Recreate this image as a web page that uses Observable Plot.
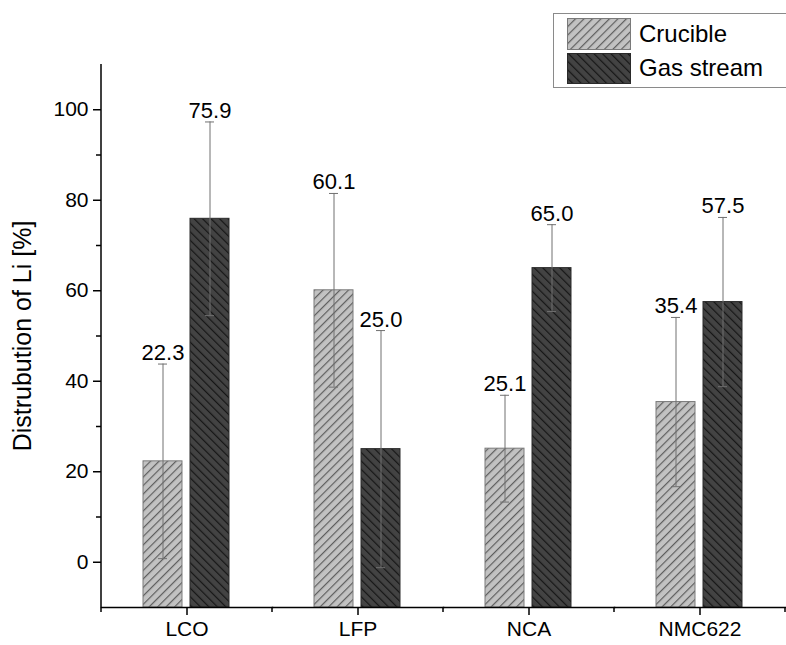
<!DOCTYPE html>
<html><head><meta charset="utf-8">
<script src="https://cdn.jsdelivr.net/npm/d3@7"></script>
<script src="https://cdn.jsdelivr.net/npm/@observablehq/plot@0.6"></script>
<style>
body{margin:0;background:#fff;font-family:"Liberation Sans",Arial,sans-serif}
#wrap{position:relative;width:786px;height:645px;overflow:hidden;background:#fff}
#legend{position:absolute;left:553px;top:13px;width:250px;height:73px;border:1px solid #8a8a8a;background:#fff}
.item{position:absolute;left:13px;height:32px;display:flex;align-items:center}
.item svg{display:block}
.item span{margin-left:8px;font-size:24px;color:#000;line-height:32px}
</style></head><body>
<svg width="0" height="0" style="position:absolute"><defs>
<pattern id="hatchC" patternUnits="userSpaceOnUse" width="6" height="6" patternTransform="rotate(45)">
<rect width="6" height="6" fill="#c2c2c2"/><line x1="0.6" y1="0" x2="0.6" y2="6" stroke="#5e5e5e" stroke-width="1.2"/></pattern>
<pattern id="hatchG" patternUnits="userSpaceOnUse" width="6" height="6" patternTransform="rotate(-45)">
<rect width="6" height="6" fill="#434343"/><line x1="0.6" y1="0" x2="0.6" y2="6" stroke="#161616" stroke-width="1.2"/></pattern>
</defs></svg>
<div id="wrap"></div>
<script>
const cats = ["LCO", "LFP", "NCA", "NMC622"];
const series = ["Crucible", "Gas stream"];
const crucible = [22.3, 60.1, 25.1, 35.4];
const crucibleErr = [21.5, 21.4, 11.8, 18.7];
const gas = [75.9, 25.0, 65.0, 57.5];
const gasErr = [21.4, 26.2, 9.6, 18.7];
const yDomain = [-10, 110];
const majorTicks = [0, 20, 40, 60, 80, 100];
const minorTicks = [10, 30, 50, 70, 90];
const yTitle = "Distrubution of Li [%]";

const rows = cats.flatMap((c, i) => [
  {cat: c, s: series[0], v: crucible[i], e: crucibleErr[i]},
  {cat: c, s: series[1], v: gas[i], e: gasErr[i]}
]);
const fills = {"Crucible": "url(#hatchC)", "Gas stream": "url(#hatchG)"};
const strokes = {"Crucible": "#7a7a7a", "Gas stream": "#2a2a2a"};

const plot = Plot.plot({
  width: 786, height: 645,
  marginLeft: 101, marginRight: 1, marginTop: 64, marginBottom: 38,
  style: {fontFamily: "Liberation Sans, Arial, sans-serif", fontSize: "21px", color: "#000", background: "#fff", overflow: "visible"},
  fx: {domain: cats, padding: 0, label: null, axis: null},
  x: {domain: series, paddingInner: 0.1667, paddingOuter: 0.865, axis: null},
  y: {domain: yDomain, label: null},
  marks: [
    Plot.barY(rows, {fx: "cat", x: "s", y1: () => yDomain[0], y2: "v",
      fill: d => fills[d.s], stroke: d => strokes[d.s], strokeWidth: 1}),
    Plot.ruleX(rows, {fx: "cat", x: "s", y1: d => d.v - d.e, y2: d => d.v + d.e, stroke: "#707070", strokeWidth: 1}),
    Plot.tickY(rows, {fx: "cat", x: "s", y: d => d.v + d.e, insetLeft: 15, insetRight: 15, stroke: "#707070", strokeWidth: 1}),
    Plot.tickY(rows, {fx: "cat", x: "s", y: d => d.v - d.e, insetLeft: 15, insetRight: 15, stroke: "#707070", strokeWidth: 1}),
    Plot.text(rows, {fx: "cat", x: "s", y: d => d.v + d.e, text: d => d.v.toFixed(1), dy: -4, lineAnchor: "bottom", fontSize: 22, fill: "#000"}),
    Plot.frame({anchor: "bottom", stroke: "#000", strokeWidth: 1.5}),
    Plot.axisY({ticks: majorTicks, tickSize: 8, tickPadding: 5, strokeWidth: 1.5, label: null, fontSize: 21}),
    Plot.axisY({ticks: minorTicks, tickSize: 5, tickFormat: () => "", strokeWidth: 1.5, label: null}),
    Plot.axisY({ticks: [], label: yTitle, labelAnchor: "center", labelArrow: "none", labelOffset: 88, fontSize: 25}),
    Plot.axisFx({anchor: "bottom", tickSize: 8, tickPadding: 6, strokeWidth: 1.5, label: null, fontSize: 21})
  ]
});
document.getElementById("wrap").appendChild(plot);

// axis line and minor category ticks using the library's scales
const ys = plot.scale("y"), fxs = plot.scale("fx");
const svg = d3.select(plot);
const x0 = fxs.apply(cats[0]);
const g = svg.append("g").attr("stroke", "#000").attr("stroke-width", 1.5);
g.append("line").attr("x1", x0).attr("x2", x0).attr("y1", ys.apply(yDomain[1])).attr("y2", ys.apply(yDomain[0]));
const bounds = cats.map(c => fxs.apply(c)).concat([fxs.apply(cats[cats.length - 1]) + fxs.bandwidth]);
bounds.forEach(b => g.append("line").attr("x1", b).attr("x2", b).attr("y1", ys.apply(yDomain[0])).attr("y2", ys.apply(yDomain[0]) + 5));

// legend
const legend = document.createElement("div");
legend.id = "legend";
series.forEach((s, i) => {
  const it = document.createElement("div");
  it.className = "item";
  it.style.top = (i === 0 ? 4 : 38) + "px";
  it.innerHTML = `<svg width="64" height="${i === 0 ? 32 : 31}"><rect x="0.5" y="0.5" width="63" height="${i === 0 ? 31 : 30}" fill="${fills[s]}" stroke="${strokes[s]}"/></svg><span>${s}</span>`;
  legend.appendChild(it);
});
document.getElementById("wrap").appendChild(legend);
</script>
</body></html>
